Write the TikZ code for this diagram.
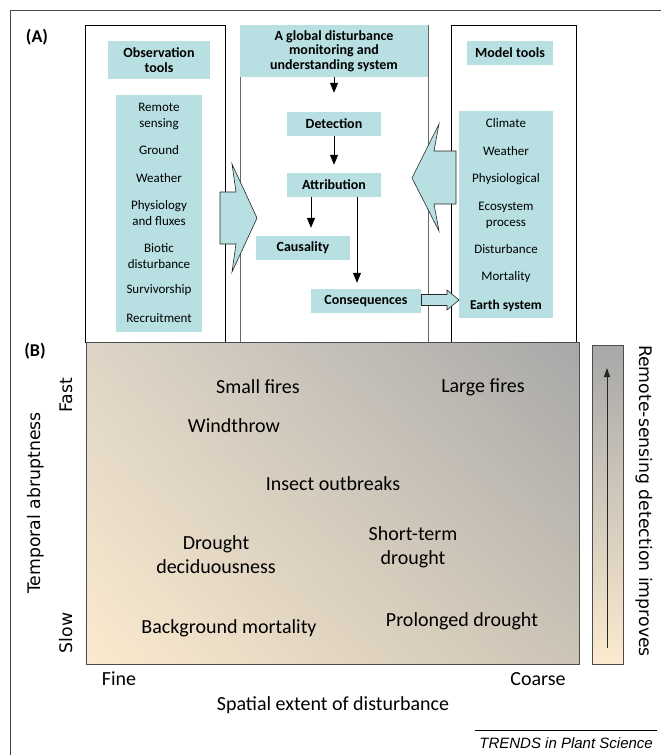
\documentclass[tikz,border=0pt]{standalone}
\usepackage{fontspec}
\setmainfont{Carlito}
\newfontfamily\dvs{DejaVu Sans}
\newfontfamily\lib{Liberation Sans}
\usetikzlibrary{arrows.meta,shadings}
\definecolor{tealfill}{RGB}{184,223,226}
\definecolor{cream}{RGB}{251,234,206}
\definecolor{grayend}{RGB}{168,168,168}
\definecolor{midtone}{RGB}{222,213,198}
\definecolor{framegray}{RGB}{70,70,70}
\begin{document}
\begin{tikzpicture}[x=1pt,y=-1pt,
  tbox/.style={fill=tealfill, inner sep=0pt, align=center},
  ftxt/.style={font=\fontsize{13}{16}\selectfont, align=center, inner sep=0pt},
  btxt/.style={font=\fontsize{14}{14.5}\selectfont\bfseries, align=center, inner sep=0pt},
  bigtxt/.style={font=\fontsize{20}{24}\selectfont, align=center, inner sep=0pt},
  axtxt/.style={font=\dvs\fontsize{17.3}{20}\selectfont, inner sep=0pt},
  arr/.style={-{Triangle[width=8pt,length=10pt]}, line width=1pt},
  blockarrow/.style={fill=tealfill, draw=black!85, line width=0.6pt, line join=miter}
]
\useasboundingbox (0,0) rectangle (661,755);
% outer frame
\draw[framegray, line width=1pt] (10,755) -- (10,10) -- (661,10);
\node[font=\bfseries\fontsize{18}{20}\selectfont, inner sep=0pt] (labA) at (37,37) {(A)};
\node[font=\bfseries\fontsize{18}{20}\selectfont, inner sep=0pt] (labB) at (35,351) {(B)};

% panels of A
\node[draw=black, line width=0.8pt, minimum width=140pt, minimum height=317pt, inner sep=0pt] (lpanel) at (155,183.5) {};
\node[draw=black!60, line width=0.9pt, minimum width=188pt, minimum height=317pt, inner sep=0pt] (mpanel) at (334,183.5) {};
\node[draw=black, line width=0.8pt, minimum width=125pt, minimum height=317pt, inner sep=0pt] (rpanel) at (513.5,183.5) {};

% observation tools
\node[tbox, btxt, minimum width=102pt, minimum height=38pt] (obshead) at (159,60) {Observation\\tools};
\node[tbox, minimum width=86pt, minimum height=237pt] (obsbox) at (159,213.5) {};
\node[ftxt] (o1) at (159,116) {Remote\\sensing};
\node[ftxt] (o2) at (159,150) {Ground};
\node[ftxt] (o3) at (159,178) {Weather};
\node[ftxt] (o4) at (159,213.5) {Physiology\\and fluxes};
\node[ftxt] (o5) at (159,256) {Biotic\\disturbance};
\node[ftxt] (o6) at (159,290) {Survivorship};
\node[ftxt] (o7) at (159,318) {Recruitment};

% model tools
\node[tbox, btxt, minimum width=86pt, minimum height=24pt] (modhead) at (510,53) {Model tools};
\node[tbox, minimum width=94pt, minimum height=207pt] (modbox) at (506,214.5) {};
\node[ftxt] (m1) at (506,123) {Climate};
\node[ftxt] (m2) at (506,151) {Weather};
\node[ftxt] (m3) at (506,179) {Physiological};
\node[ftxt] (m4) at (506,215) {Ecosystem\\process};
\node[ftxt] (m5) at (506,249) {Disturbance};
\node[ftxt] (m6) at (506,277) {Mortality};
\node[ftxt, font=\fontsize{13.5}{16}\selectfont\bfseries] (m7) at (506,306) {Earth system};

% middle system
\node[tbox, btxt, minimum width=188pt, minimum height=52pt] (mhead) at (334,51) {A global disturbance\\monitoring and\\understanding system};
\node[tbox, btxt, minimum width=94pt, minimum height=24pt] (det) at (334,124) {Detection};
\node[tbox, btxt, minimum width=94pt, minimum height=24pt] (att) at (334,185) {Attribution};
\node[tbox, btxt, minimum width=94pt, minimum height=24pt] (cau) at (303,248) {Causality};
\node[tbox, btxt, minimum width=110pt, minimum height=24pt] (cons) at (366,301) {Consequences};

\draw[arr, shorten >=19pt] (mhead.south) -- (det.north);
\draw[arr, shorten >=8pt] (det) -- (att);
\draw[arr, shorten >=8pt] ([xshift=-23pt]att.south) -- ([xshift=8pt]cau.north);
\draw[arr, shorten >=6pt] ([xshift=23pt]att.south) -- ([xshift=-9pt]cons.north);

% block arrows
\draw[blockarrow] (220,192) -- (236,192) -- (232,164) -- (257,218) -- (232,272) -- (236,244) -- (220,244) -- cycle;
\draw[blockarrow] (456,151) -- (434,151) -- (439,124) -- (412,178) -- (439,231) -- (434,204) -- (456,204) -- cycle;
\draw[blockarrow] (421.5,294.5) -- (447,294.5) -- (447,290) -- (459,300) -- (447,310) -- (447,305.5) -- (421.5,305.5) -- cycle;

% panel B
\shade[upper right=grayend, lower left=cream, upper left=midtone, lower right=midtone!92!black] (86,342) rectangle (579,664);
\node[draw=black!70, line width=0.9pt, minimum width=493pt, minimum height=322pt, inner sep=0pt] (bbox) at (332.5,503) {};
\shade[top color=grayend, bottom color=cream] (592,345) rectangle (623,664);
\node[draw=black!70, line width=0.9pt, minimum width=31pt, minimum height=319pt, inner sep=0pt] (cbar) at (607.5,504.5) {};
\coordinate (cb1) at (607,648);
\coordinate (cb2) at (607,368);
\draw[-{Triangle[width=6pt,length=9pt]}, line width=1pt, black!85] (cb1) -- (cb2);

\node[bigtxt] (t1) at (258,387) {Small fires};
\node[bigtxt] (t2) at (483,387) {Large fires};
\node[bigtxt] (t3) at (234,426) {Windthrow};
\node[bigtxt] (t4) at (333,484) {Insect outbreaks};
\node[bigtxt] (t5) at (216,555) {Drought\\deciduousness};
\node[bigtxt] (t6) at (413,547) {Short-term\\drought};
\node[bigtxt] (t7) at (229,628) {Background mortality};
\node[bigtxt] (t8) at (462,621) {Prolonged drought};

\node[bigtxt] (fine) at (119,679) {Fine};
\node[bigtxt] (coarse) at (538,679) {Coarse};
\node[bigtxt] (spat) at (333,705) {Spatial extent of disturbance};

\node[axtxt, rotate=90] (tabr) at (36,503) {Temporal abruptness};
\node[axtxt, rotate=90] (fast) at (66,395) {Fast};
\node[axtxt, rotate=90] (slow) at (66,633) {Slow};
\node[axtxt, rotate=-90] (rsd) at (644,501) {Remote-sensing detection improves};

\coordinate (tl1) at (475,730);
\coordinate (tl2) at (657,730);
\draw[black, line width=0.6pt] (tl1) -- (tl2);
\node[font=\lib\itshape\fontsize{15}{17}\selectfont, anchor=east, inner sep=0pt] (trends) at (653,743) {TRENDS in Plant Science};
\end{tikzpicture}
\end{document}
